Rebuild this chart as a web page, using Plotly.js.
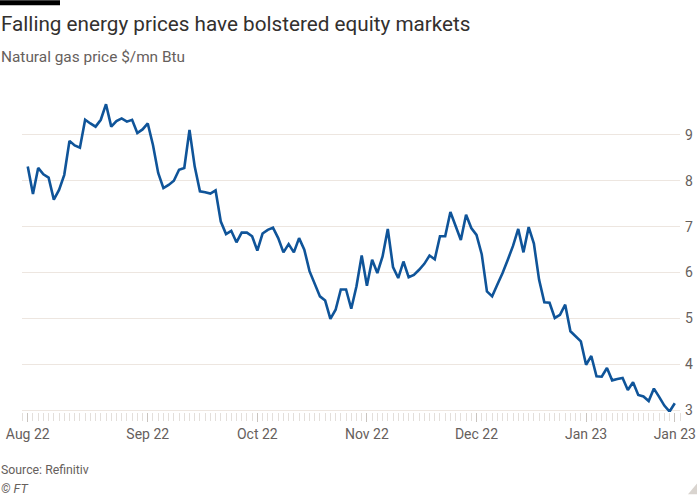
<!DOCTYPE html>
<html>
<head>
<meta charset="utf-8">
<script src="https://cdn.plot.ly/plotly-3.0.1.min.js"></script>
<style>
  html, body { margin: 0; padding: 0; background: #ffffff; }
  #chart { width: 700px; height: 500px; }
</style>
</head>
<body>
<div id="chart"></div>
<script>
// Natural gas price, $/mn Btu, one value per trading day from 1 Aug 2022
const prices = [
  8.31, 7.71, 8.28, 8.14, 8.07, 7.59, 7.80, 8.13, 8.87, 8.77,
  8.72, 9.33, 9.25, 9.18, 9.33, 9.67, 9.18, 9.30, 9.36, 9.29,
  9.33, 9.04, 9.12, 9.25, 8.78, 8.17, 7.84, 7.91, 8.00, 8.24,
  8.28, 9.11, 8.31, 7.77, 7.75, 7.72, 7.79, 7.11, 6.84, 6.91,
  6.66, 6.87, 6.87, 6.79, 6.48, 6.85, 6.93, 6.98, 6.75, 6.44,
  6.62, 6.44, 6.75, 6.50, 6.03, 5.76, 5.48, 5.39, 4.99, 5.19,
  5.63, 5.63, 5.21, 5.70, 6.37, 5.71, 6.28, 5.99, 6.35, 6.95,
  6.12, 5.88, 6.24, 5.90, 5.95, 6.06, 6.19, 6.37, 6.29, 6.79,
  6.79, 7.32, 7.02, 6.71, 7.26, 6.97, 6.82, 6.40, 5.59, 5.48,
  5.74, 5.99, 6.28, 6.58, 6.95, 6.44, 6.99, 6.63, 5.84, 5.35,
  5.34, 5.01, 5.08, 5.30, 4.72, 4.60, 4.50, 3.99, 4.18, 3.74,
  3.73, 3.92, 3.65, 3.68, 3.70, 3.44, 3.61, 3.33, 3.30, 3.20,
  3.47, 3.29, 3.10, 2.97, 3.15
];

// Trading-day calendar (weekdays, exchange holidays skipped)
const startDate = "2022-08-01";
const holidays = ["2022-09-05", "2022-11-24", "2022-12-26", "2023-01-02", "2023-01-16"];

// X tick labels (first trading day of each month, plus last day)
const tickLabels = ["Aug 22", "Sep 22", "Oct 22", "Nov 22", "Dec 22", "Jan 23", "Jan 23"];
const yTicks = [3, 4, 5, 6, 7, 8, 9];

// build the trading-day list (categories)
const dates = [];
(function () {
  const d = new Date(startDate + "T00:00:00Z");
  while (dates.length < prices.length) {
    const iso = d.toISOString().slice(0, 10);
    const wd = d.getUTCDay();
    if (wd !== 0 && wd !== 6 && holidays.indexOf(iso) < 0) dates.push(iso);
    d.setUTCDate(d.getUTCDate() + 1);
  }
})();
const xIdx = dates.map((_, i) => i);

// month-start positions
const tickVals = [];
dates.forEach((d, i) => {
  if (i === 0 || d.slice(5, 7) !== dates[i - 1].slice(5, 7)) tickVals.push(i);
});
tickVals.push(dates.length - 1);

// plot-area geometry helpers for paper positioning
const L = 22, R = 20, T = 95, B = 87.5, W = 700, H = 500;
const pw = W - L - R, ph = H - T - B;
const xp = px => (px - L) / pw;
const yp = py => (H - B - py) / ph;

const trace = {
  x: xIdx,
  y: prices,
  text: dates,
  type: "scatter",
  mode: "lines",
  line: { color: "#0f5499", width: 2.6, shape: "linear" },
  hovertemplate: "%{text}: %{y:.2f}<extra></extra>"
};

const layout = {
  width: W,
  height: H,
  margin: { l: L, r: R, t: T, b: B, pad: 0 },
  paper_bgcolor: "#ffffff",
  plot_bgcolor: "#ffffff",
  showlegend: false,
  font: { family: "Roboto, 'Liberation Sans', sans-serif", color: "#66605c" },
  xaxis: {
    type: "linear",
    range: [-1.1, 125],
    tickmode: "array",
    tickvals: tickVals,
    ticktext: tickLabels,
    ticks: "outside",
    ticklen: 9,
    tickwidth: 1,
    tickcolor: "#c9c4bf",
    minor: { dtick: 1, tick0: 0, ticks: "outside", ticklen: 8, tickwidth: 1, tickcolor: "#e3dfdb", showgrid: false },
    showgrid: false,
    zeroline: false,
    showline: false,
    tickfont: { size: 14, color: "#66605c" },
    fixedrange: true
  },
  yaxis: {
    side: "right",
    range: [2.96, 9.87],
    tickmode: "array",
    tickvals: yTicks,
    ticktext: yTicks.map(String),
    ticks: "",
    ticklabelstandoff: 4,
    showgrid: true,
    gridcolor: "#ede6e0",
    gridwidth: 1,
    zeroline: false,
    showline: false,
    tickfont: { size: 14, color: "#66605c" },
    fixedrange: true
  },
  shapes: [
    { type: "rect", xref: "paper", yref: "paper", x0: xp(0), x1: xp(60), y0: yp(5), y1: yp(0),
      fillcolor: "#000000", line: { width: 0 }, layer: "above" },
    { type: "path", xref: "paper", yref: "paper",
      path: "M " + xp(697) + "," + yp(484) + " L " + xp(697) + "," + yp(495) + " L " + xp(688) + "," + yp(495) + " Z",
      fillcolor: "#d9d4cf", line: { width: 0 } }
  ],
  annotations: [
    { text: "Falling energy prices have bolstered equity markets", xref: "paper", yref: "paper",
      x: xp(0), y: yp(24), xanchor: "left", yanchor: "middle", showarrow: false,
      font: { size: 20.7, color: "#33302e" }, borderpad: 0 },
    { text: "Natural gas price $/mn Btu", xref: "paper", yref: "paper",
      x: xp(0), y: yp(57), xanchor: "left", yanchor: "middle", showarrow: false,
      font: { size: 15.4, color: "#66605c" }, borderpad: 0 },
    { text: "Source: Refinitiv", xref: "paper", yref: "paper",
      x: xp(0), y: yp(471), xanchor: "left", yanchor: "middle", showarrow: false,
      font: { size: 12.3, color: "#66605c" }, borderpad: 0 },
    { text: "<i>© FT</i>", xref: "paper", yref: "paper",
      x: xp(0), y: yp(489), xanchor: "left", yanchor: "middle", showarrow: false,
      font: { size: 12.5, color: "#66605c" }, borderpad: 0 }
  ]
};

Plotly.newPlot("chart", [trace], layout, { displayModeBar: false, staticPlot: true });
</script>
</body>
</html>
